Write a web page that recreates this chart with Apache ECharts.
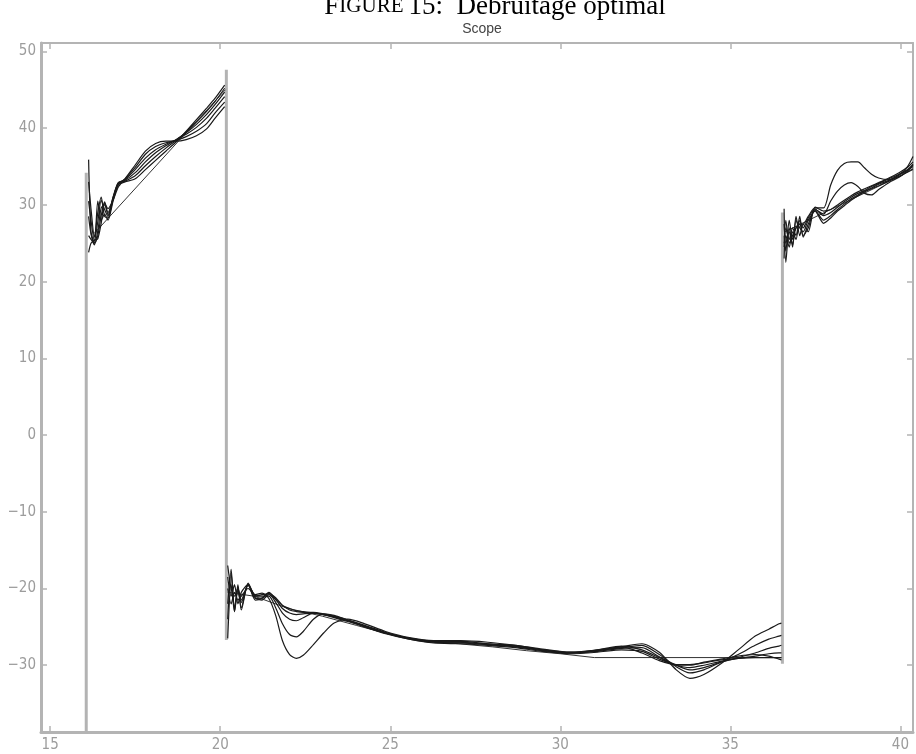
<!DOCTYPE html>
<html>
<head>
<meta charset="utf-8">
<script src="https://cdn.jsdelivr.net/npm/echarts@6/dist/echarts.min.js"></script>
<style>
  html, body { margin: 0; padding: 0; background: #fff; }
  #chart { width: 916px; height: 754px; }
</style>
</head>
<body>
<div id="chart"></div>
<script>
// Tick labels
const xTicks = [15, 20, 25, 30, 35, 40];
const yTicks = [-30, -20, -10, 0, 10, 20, 30, 40, 50];

// Step edges of the reference signal (grey verticals)
const edgeX    = [16.06, 20.18, 36.53];
const edgeLow  = [-45, -26.7, -29.8];
const edgeHigh = [34.2, 47.6, 29.0];

// Segment 1: first rising ramp
const x1 = [16.13, 16.2, 16.3, 16.4, 16.5, 16.6, 16.7, 16.85, 17.0, 17.2, 17.5, 17.8, 18.1, 18.4, 18.7, 19.0, 19.3, 19.6, 19.85, 20.13];
const s1c1 = [35.9, 26.5, 25.0, 30.5, 28.0, 28.8, 28.0, 30.5, 32.6, 33.0, 33.4, 34.6, 35.8, 37.0, 38.2, 39.6, 41.1, 42.6, 43.9, 45.6];
const s1c2 = [33.0, 29.5, 25.8, 29.0, 31.0, 28.5, 28.3, 30.8, 32.8, 33.1, 33.8, 35.1, 36.3, 37.4, 38.4, 39.5, 40.8, 42.2, 43.5, 45.2];
const s1c3 = [30.5, 28.0, 25.3, 27.8, 30.6, 29.4, 28.5, 31.0, 32.9, 33.2, 34.2, 35.6, 36.8, 37.7, 38.5, 39.4, 40.5, 41.8, 43.1, 44.7];
const s1c4 = [28.5, 26.2, 24.8, 26.6, 29.6, 30.0, 28.7, 31.0, 32.8, 33.3, 34.6, 36.1, 37.2, 37.9, 38.5, 39.2, 40.1, 41.3, 42.6, 44.1];
const s1c5 = [26.0, 25.5, 25.0, 26.0, 28.6, 30.4, 29.0, 30.8, 32.6, 33.4, 34.9, 36.6, 37.6, 38.1, 38.4, 38.9, 39.6, 40.6, 42.0, 43.4];
const s1c6 = [23.8, 25.0, 25.4, 25.6, 27.6, 30.2, 29.5, 30.6, 32.3, 33.4, 35.2, 37.0, 38.0, 38.3, 38.3, 38.5, 39.0, 39.9, 41.3, 42.8];

// Segment 2: low plateau
const x2 = [20.22, 20.32, 20.42, 20.52, 20.62, 20.82, 21.03, 21.23, 21.43, 21.63, 21.83, 22.04, 22.24, 22.44, 22.74, 23.04, 23.35, 23.75, 24.25, 24.86, 25.56, 26.27, 27.07, 27.87, 28.68, 29.48, 30.29, 31.09, 31.8, 32.4, 32.91, 33.41, 33.81, 34.22, 34.72, 35.23, 35.73, 36.13, 36.43, 36.5];
const s2c1 = [-26.5, -19.5, -23.0, -19.8, -22.5, -19.3, -21.2, -21.5, -20.8, -21.4, -22.2, -22.6, -22.9, -23.0, -23.2, -23.4, -23.7, -24.2, -25.0, -25.8, -26.6, -27.0, -26.9, -27.2, -27.4, -28.0, -28.4, -28.0, -27.5, -28.0, -29.0, -30.0, -30.0, -29.6, -29.2, -28.8, -28.6, -28.8, -29.2, -29.3];
const s2c2 = [-17.0, -20.0, -21.0, -20.0, -21.5, -19.5, -21.5, -21.3, -20.6, -21.2, -22.2, -22.8, -23.0, -23.1, -23.1, -23.3, -23.6, -24.1, -24.9, -25.8, -26.5, -26.9, -27.0, -27.3, -27.5, -28.1, -28.4, -28.1, -27.6, -28.4, -29.4, -29.9, -29.9, -29.7, -29.3, -29.1, -29.0, -29.0, -29.0, -29.0];
const s2c3 = [-22.0, -17.5, -23.0, -19.5, -22.8, -19.4, -21.3, -21.2, -20.5, -21.4, -22.6, -23.2, -23.4, -23.3, -23.2, -23.4, -23.8, -24.3, -25.0, -25.9, -26.6, -27.1, -27.2, -27.4, -27.7, -28.2, -28.5, -28.3, -28.0, -28.2, -29.2, -30.0, -30.3, -30.0, -29.5, -29.1, -28.8, -28.5, -28.4, -28.4];
const s2c4 = [-18.5, -21.0, -19.5, -22.0, -20.5, -19.5, -21.0, -20.8, -20.7, -21.8, -23.2, -24.0, -24.2, -23.8, -23.2, -23.4, -23.7, -24.2, -24.9, -25.8, -26.5, -27.0, -27.1, -27.3, -27.6, -28.1, -28.4, -28.2, -27.8, -27.7, -28.9, -30.0, -30.6, -30.3, -29.6, -29.0, -28.4, -27.8, -27.5, -27.4];
const s2c5 = [-24.0, -18.0, -22.5, -20.3, -21.8, -19.6, -20.9, -21.0, -21.0, -22.5, -24.6, -26.0, -26.3, -25.6, -24.0, -23.3, -23.5, -24.1, -24.8, -25.7, -26.5, -26.9, -27.0, -27.2, -27.5, -28.0, -28.3, -28.1, -27.7, -27.4, -28.6, -30.2, -31.0, -30.6, -29.6, -28.6, -27.4, -26.6, -26.2, -26.1];
const s2c6 = [-20.0, -22.0, -20.5, -21.5, -21.0, -20.0, -20.8, -20.6, -21.3, -23.5, -26.8, -28.6, -29.1, -28.7, -27.3, -25.8, -24.5, -24.0, -24.6, -25.6, -26.4, -26.8, -26.8, -27.0, -27.4, -27.9, -28.3, -28.0, -27.6, -27.2, -28.3, -30.6, -31.7, -31.2, -29.8, -28.0, -26.2, -25.3, -24.6, -24.5];

// Segment 3: second rising ramp
const x3 = [36.58, 36.63, 36.73, 36.83, 36.93, 37.04, 37.14, 37.29, 37.49, 37.74, 37.95, 38.15, 38.35, 38.55, 38.75, 38.95, 39.15, 39.36, 39.66, 39.96, 40.21, 40.37];
const s3c1 = [29.5, 22.5, 27.0, 24.5, 28.5, 26.0, 27.5, 26.5, 29.7, 29.2, 29.4, 30.0, 30.6, 31.2, 31.7, 32.1, 32.5, 32.9, 33.5, 34.2, 34.9, 35.6];
const s3c2 = [26.0, 24.0, 28.0, 25.5, 27.0, 27.5, 26.0, 27.0, 29.5, 28.6, 29.0, 29.7, 30.4, 31.0, 31.5, 31.9, 32.4, 32.8, 33.4, 34.0, 34.6, 35.3];
const s3c3 = [23.0, 27.0, 25.5, 27.0, 26.0, 28.5, 25.8, 27.5, 29.3, 28.0, 28.6, 29.4, 30.1, 30.8, 31.3, 31.8, 32.2, 32.7, 33.2, 33.9, 34.5, 35.0];
const s3c4 = [27.5, 25.0, 26.5, 24.8, 28.0, 27.0, 26.5, 28.0, 29.2, 27.6, 28.3, 29.2, 29.9, 30.6, 31.2, 31.7, 32.1, 32.5, 33.1, 33.7, 34.3, 34.7];
const s3c5 = [25.0, 26.0, 24.5, 26.5, 25.5, 28.0, 27.0, 28.3, 29.4, 28.8, 30.5, 31.8, 32.6, 32.9, 32.4, 31.5, 31.3, 32.0, 32.9, 33.6, 34.4, 35.2];
const s3c6 = [24.5, 28.0, 25.0, 26.0, 27.0, 27.5, 27.5, 28.5, 29.6, 29.6, 32.6, 34.5, 35.4, 35.6, 35.6, 34.8, 34.0, 33.5, 33.3, 33.9, 35.0, 36.3];

// Ideal (noise-free) trace
const idealX = [16.3, 20.15, null, 20.22, 21.0, 22.0, 23.0, 24.0, 25.0, 26.0, 27.0, 28.0, 29.0, 30.0, 31.0, 36.5, null, 36.6, 40.37];
const idealY = [26.3, 45.0, null, -20.5, -21.0, -22.6, -23.6, -24.8, -26.0, -26.8, -27.2, -27.6, -28.1, -28.5, -29.0, -29.0, null, 26.5, 34.6];

const curves = [
  [s1c1, s2c1, s3c1],
  [s1c2, s2c2, s3c2],
  [s1c3, s2c3, s3c3],
  [s1c4, s2c4, s3c4],
  [s1c5, s2c5, s3c5],
  [s1c6, s2c6, s3c6]
];

function joinSegments(xs, ys) {
  const out = [];
  xs.forEach((xArr, k) => {
    if (k > 0) out.push([xArr[0] - 0.01, '-']);
    xArr.forEach((x, i) => out.push([x, ys[k][i]]));
  });
  return out;
}

const edgeData = [];
edgeX.forEach((x, i) => {
  if (i > 0) edgeData.push([x - 0.01, '-']);
  edgeData.push([x, edgeLow[i]], [x, edgeHigh[i]]);
});

const idealData = idealX.map((x, i) => x === null ? [idealX[i - 1] + 0.01, '-'] : [x, idealY[i]]);

const series = [{
  type: 'line', data: edgeData, symbol: 'none', z: 1,
  lineStyle: { color: '#b3b3b3', width: 3 }, animation: false, silent: true
}, {
  type: 'line', data: idealData, symbol: 'none', z: 2,
  lineStyle: { color: '#333', width: 1 }, animation: false, silent: true
}];
curves.forEach(c => series.push({
  type: 'line', data: joinSegments([x1, x2, x3], c), symbol: 'none', z: 3, smooth: 0.25,
  lineStyle: { color: '#1a1a1a', width: 1.2 }, animation: false, silent: true
}));

const axisGray = '#b4b4b4';
const labelFont = '"Liberation Sans Narrow", "DejaVu Sans Condensed", sans-serif';
const fmt = v => v < 0 ? '\u2212' + Math.abs(v) : String(v);

function xAxisCfg(pos, width, showLabels) {
  return {
    type: 'value', position: pos, min: 14.73, max: 40.37,
    axisLine: { show: true, onZero: false, lineStyle: { color: axisGray, width: width } },
    axisTick: { show: true, inside: true, length: 6, customValues: xTicks, lineStyle: { color: axisGray, width: 1.5 } },
    axisLabel: { show: showLabels, customValues: xTicks, color: '#9c9c9c', fontFamily: labelFont, fontSize: 15, margin: 6, formatter: fmt },
    splitLine: { show: false }
  };
}
function yAxisCfg(pos, width, showLabels) {
  return {
    type: 'value', position: pos, min: -38.7, max: 51.1,
    axisLine: { show: true, onZero: false, lineStyle: { color: axisGray, width: width } },
    axisTick: { show: true, inside: true, length: 6, customValues: yTicks, lineStyle: { color: axisGray, width: 1.5 } },
    axisLabel: { show: showLabels, customValues: yTicks, color: '#9c9c9c', fontFamily: labelFont, fontSize: 15, margin: 5, formatter: fmt },
    splitLine: { show: false }
  };
}

const chart = echarts.init(document.getElementById('chart'), null, { renderer: 'canvas' });
chart.setOption({
  backgroundColor: '#fff',
  animation: false,
  title: [{
    text: '{b|F}{s|IGURE} {b|15:  Débruitage optimal}',
    left: 490, top: -12, textAlign: 'center',
    textStyle: {
      fontWeight: 'normal',
      rich: {
        b: { fontFamily: '"Liberation Serif", serif', fontSize: 27, fontWeight: 'normal', color: '#000' },
        s: { fontFamily: '"Liberation Serif", serif', fontSize: 21, fontWeight: 'normal', color: '#000' }
      }
    }
  }, {
    text: 'Scope', left: 477, top: 17, textAlign: 'center',
    textStyle: { fontFamily: '"Liberation Sans", sans-serif', fontSize: 14, fontWeight: 'normal', color: '#444' }
  }],
  grid: { left: 41, right: 3, top: 43, bottom: 22 },
  xAxis: [xAxisCfg('bottom', 3, true), xAxisCfg('top', 2, false)],
  yAxis: [yAxisCfg('left', 3, true), yAxisCfg('right', 2, false)],
  series: series
});
</script>
</body>
</html>
